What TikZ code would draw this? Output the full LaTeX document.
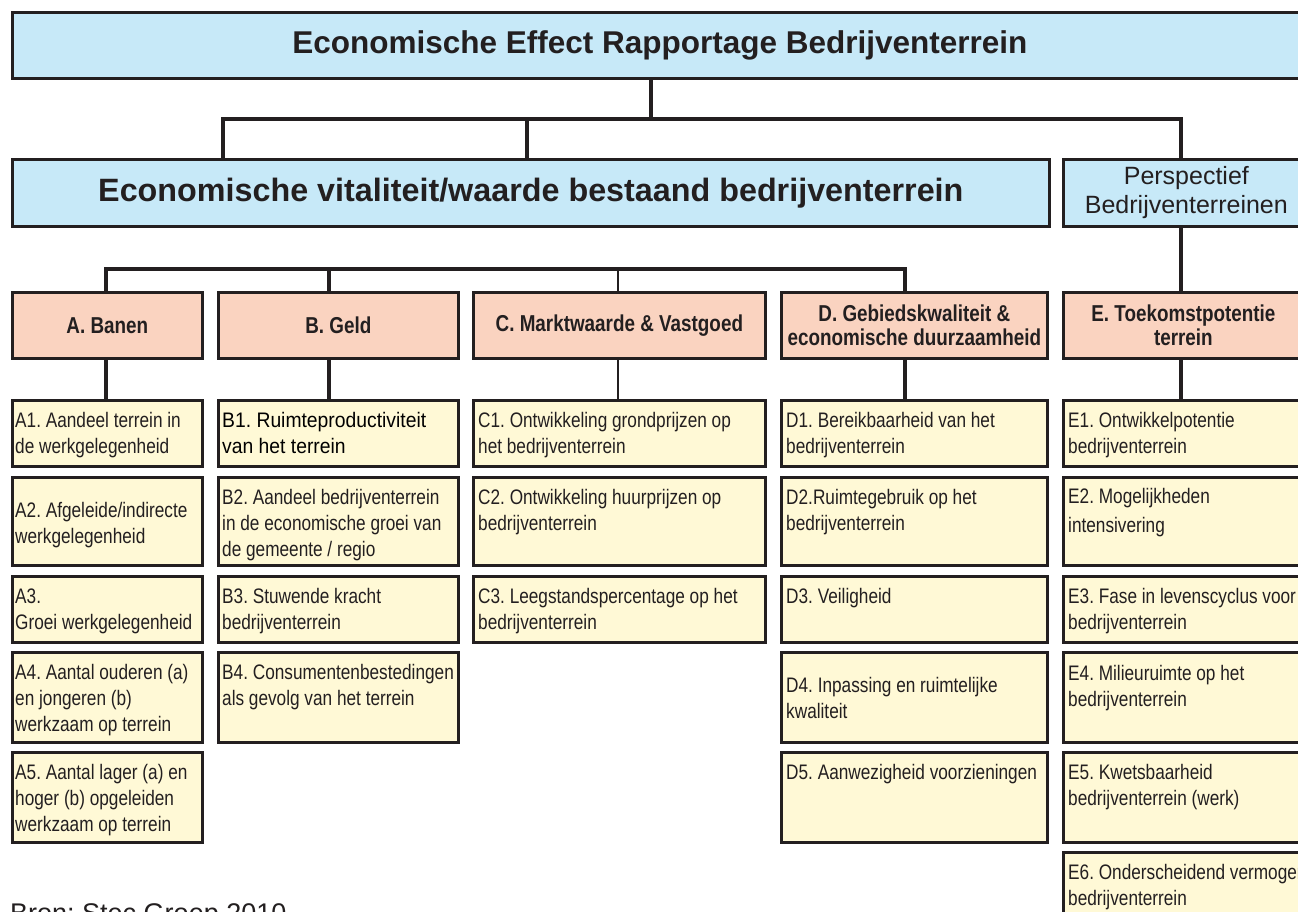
\documentclass[tikz,border=0pt]{standalone}
\usepackage{fontspec}
\setmainfont{Liberation Sans}
\newfontfamily\cnd[FakeStretch=0.82]{Liberation Sans}
\newfontfamily\rmb[FakeStretch=0.92]{Liberation Sans}
\frenchspacing
\definecolor{lc}{HTML}{231F20}
\definecolor{blu}{HTML}{C7E9F8}
\definecolor{sal}{HTML}{FAD3C0}
\definecolor{yel}{HTML}{FFF9D6}
\newcommand{\bx}[7]{\node[#2, minimum width={#5-#3}, minimum height={#6-#4}] (#1) at (#3,#4) {#7};}
\newcommand{\yt}[3]{\node[ytxt] (#1t) at ([shift={(#2)}]#1.north west) {\rule{0pt}{20pt}#3};}
\begin{document}
\frenchspacing
\begin{tikzpicture}[x=1pt,y=-1pt,
  box/.style={draw=lc, line width=2.7pt, anchor=north west, inner sep=0pt, text=lc},
  tbox/.style={box, fill=blu, font=\frenchspacing\bfseries\fontsize{31.5}{36}\selectfont},
  vbox/.style={box, fill=blu, font=\frenchspacing\bfseries\fontsize{32.3}{36}\selectfont},
  pbox/.style={box, fill=blu, align=center, font=\frenchspacing\fontsize{25}{29}\selectfont},
  hbox/.style={box, fill=sal, align=center, font=\frenchspacing\cnd\bfseries\fontsize{23}{24}\selectfont},
  ybox/.style={box, fill=yel},
  ytxt/.style={anchor=north west, inner sep=0pt, align=left, text=lc, font=\frenchspacing\cnd\fontsize{21}{26}\selectfont},
  conn/.style={draw=lc, line width=4.5pt, line join=miter},
  thinconn/.style={draw=lc, line width=2pt}]
\useasboundingbox (0,0) rectangle (1298,912);
\clip (0,0) rectangle (1298,912);
% top levels
\bx{title}{tbox}{11}{11}{1306}{77}{Economische Effect Rapportage Bedrijventerrein}
\bx{big}{vbox}{11}{158}{1048}{225}{Economische vitaliteit/waarde bestaand bedrijventerrein}
\bx{persp}{pbox}{1062}{158}{1308}{225}{Perspectief\\Bedrijventerreinen}
% headers
\bx{hA}{hbox}{11}{291}{201}{357}{A. Banen}
\bx{hB}{hbox}{217}{291}{457}{357}{B. Geld}
\bx{hC}{hbox}{472}{291}{764}{357}{C. Marktwaarde \& Vastgoed}
\bx{hD}{hbox}{780}{291}{1046}{357}{D. Gebiedskwaliteit \&\\economische duurzaamheid}
\bx{hE}{hbox}{1062}{291}{1302}{357}{E. Toekomstpotentie\\terrein}
% column A
\bx{a1}{ybox}{11}{399}{201}{465}{}
\bx{a2}{ybox}{11}{476}{201}{564}{}
\bx{a3}{ybox}{11}{575}{201}{641}{}
\bx{a4}{ybox}{11}{651}{201}{741}{}
\bx{a5}{ybox}{11}{751}{201}{841}{}
% column B
\bx{b1}{ybox}{217}{399}{457}{465}{}
\bx{b2}{ybox}{217}{476}{457}{564}{}
\bx{b3}{ybox}{217}{575}{457}{641}{}
\bx{b4}{ybox}{217}{651}{457}{741}{}
% column C
\bx{c1}{ybox}{472}{399}{764}{465}{}
\bx{c2}{ybox}{472}{476}{764}{564}{}
\bx{c3}{ybox}{472}{575}{764}{641}{}
% column D
\bx{d1}{ybox}{780}{399}{1046}{465}{}
\bx{d2}{ybox}{780}{476}{1046}{564}{}
\bx{d3}{ybox}{780}{575}{1046}{641}{}
\bx{d4}{ybox}{780}{651}{1046}{741}{}
\bx{d5}{ybox}{780}{751}{1046}{841}{}
% column E
\bx{e1}{ybox}{1062}{399}{1302}{465}{}
\bx{e2}{ybox}{1062}{476}{1302}{564}{}
\bx{e3}{ybox}{1062}{575}{1302}{641}{}
\bx{e4}{ybox}{1062}{651}{1302}{741}{}
\bx{e5}{ybox}{1062}{751}{1302}{841}{}
\bx{e6}{ybox}{1062}{851}{1302}{960}{}
% texts
\yt{a1}{4,8}{A1. Aandeel terrein in\\de werkgelegenheid}
\yt{a2}{4,21}{A2. Afgeleide/indirecte\\werkgelegenheid}
\yt{a3}{4,8}{A3.\\Groei werkgelegenheid}
\yt{a4}{4,8}{A4. Aantal ouderen (a)\\en jongeren (b)\\werkzaam op terrein}
\yt{a5}{4,8}{A5. Aantal lager (a) en\\hoger (b) opgeleiden\\werkzaam op terrein}
\node[ytxt, text=black, font=\frenchspacing\rmb\fontsize{21}{26}\selectfont] (b1t) at ([shift={(5,8)}]b1.north west) {\rule{0pt}{20pt}B1. Ruimteproductiviteit\\van het terrein};
\yt{b2}{5,8}{B2. Aandeel bedrijventerrein\\in de economische groei van\\de gemeente / regio}
\yt{b3}{5,8}{B3. Stuwende kracht\\bedrijventerrein}
\yt{b4}{5,8}{B4. Consumentenbestedingen\\als gevolg van het terrein}
\yt{c1}{6,8}{C1. Ontwikkeling grondprijzen op\\het bedrijventerrein}
\yt{c2}{6,8}{C2. Ontwikkeling huurprijzen op\\bedrijventerrein}
\yt{c3}{6,8}{C3. Leegstandspercentage op het\\bedrijventerrein}
\yt{d1}{6,8}{D1. Bereikbaarheid van het\\bedrijventerrein}
\yt{d2}{6,8}{D2.Ruimtegebruik op het\\bedrijventerrein}
\yt{d3}{6,8}{D3. Veiligheid}
\yt{d4}{6,21}{D4. Inpassing en ruimtelijke\\kwaliteit}
\yt{d5}{6,8}{D5. Aanwezigheid voorzieningen}
\yt{e1}{6,8}{E1. Ontwikkelpotentie\\bedrijventerrein}
\yt{e2}{6,7}{E2. Mogelijkheden\\[3pt]intensivering}
\yt{e3}{6,8}{E3. Fase in levenscyclus voor\\bedrijventerrein}
\yt{e4}{6,9}{E4. Milieuruimte op het\\bedrijventerrein}
\yt{e5}{6,8}{E5. Kwetsbaarheid\\bedrijventerrein (werk)}
\yt{e6}{6,8}{E6. Onderscheidend vermogen\\bedrijventerrein}
\node[anchor=base west, inner sep=0pt, text=lc, font=\fontsize{27}{30}\selectfont] (bron) at (10,922) {Bron: Stec Groep 2010};
% connector x positions
\coordinate (xT) at (651,0);
\coordinate (xV) at (223,0);
\coordinate (xW) at (527,0);
\coordinate (xA) at (106,0);
\coordinate (xB) at (329,0);
\coordinate (xC) at (618,0);
\coordinate (xD) at (905,0);
\coordinate (xE) at (1181,0);
\coordinate (bus1) at (651,119);
\coordinate (bus2) at (618,269);
% connectors
\draw[conn] (xT |- title.south) -- (xT |- bus1);
\draw[conn] (xV |- big.north) |- (xE |- bus1) -- (xE |- persp.north);
\draw[conn] (xW |- big.north) -- (xW |- bus1);
\draw[conn] (xE |- persp.south) -- (xE |- hE.north);
\draw[conn] (xA |- hA.north) |- (xD |- bus2) -- (xD |- hD.north);
\draw[conn] (xB |- hB.north) -- (xB |- bus2);
\draw[thinconn] (xC |- hC.north) -- (xC |- bus2);
\draw[conn] (xA |- hA.south) -- (xA |- a1.north);
\draw[conn] (xB |- hB.south) -- (xB |- b1.north);
\draw[thinconn] (xC |- hC.south) -- (xC |- c1.north);
\draw[conn] (xD |- hD.south) -- (xD |- d1.north);
\draw[conn] (xE |- hE.south) -- (xE |- e1.north);
\end{tikzpicture}
\end{document}
